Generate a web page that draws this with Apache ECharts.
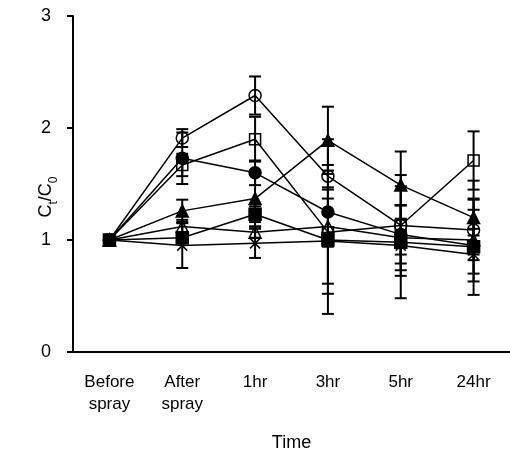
<!DOCTYPE html>
<html>
<head>
<meta charset="utf-8">
<script src="https://cdn.jsdelivr.net/npm/echarts@6/dist/echarts.min.js"></script>
<style>
  html, body { margin: 0; padding: 0; background: #fff; }
  #chart { width: 510px; height: 459px; }
</style>
</head>
<body>
<div id="chart"></div>
<script>
  var categories = ['Before\nspray', 'After\nspray', '1hr', '3hr', '5hr', '24hr'];

  // mean values, one list per marker
  var openCircle     = [1, 1.91, 2.29, 1.57, 1.13, 1.09];
  var filledCircle   = [1, 1.73, 1.60, 1.25, 1.05, 0.95];
  var openSquare     = [1, 1.67, 1.90, 1.07, 1.13, 1.71];
  var openTriangle   = [1, 1.12, 1.07, 1.12, 1.02, 1.00];
  var filledTriangle = [1, 1.26, 1.37, 1.89, 1.49, 1.20];
  var cross          = [1, 0.95, 0.97, 0.99, 0.95, 0.87];
  var filledSquare   = [1, 1.02, 1.23, 1.00, 0.98, 0.94];

  // error bar half-lengths
  var openCircleSd     = [0, 0.08, 0.17, 0.10, 0.18, 0.27];
  var filledCircleSd   = [0, 0.23, 0.11, 0.20, 0.26, 0.32];
  var openSquareSd     = [0, 0.10, 0.20, 0.55, 0.45, 0.26];
  var openTriangleSd   = [0, 0.06, 0.05, 0.78, 0.29, 0.10];
  var filledTriangleSd = [0, 0.10, 0.25, 0.30, 0.30, 0.33];
  var crossSd          = [0, 0.20, 0.13, 0.38, 0.08, 0.17];
  var filledSquareSd   = [0, 0.05, 0.07, 0.06, 0.50, 0.43];

  var yTicks = [0, 1, 2, 3];

  var groups = [
    { name: 'oc', data: openCircle, sd: openCircleSd, symbol: 'circle', size: 12, fill: 'rgba(0,0,0,0)' },
    { name: 'fc', data: filledCircle, sd: filledCircleSd, symbol: 'circle', size: 12, fill: '#000' },
    { name: 'os', data: openSquare, sd: openSquareSd, symbol: 'rect', size: 11, fill: 'rgba(0,0,0,0)' },
    { name: 'ot', data: openTriangle, sd: openTriangleSd, symbol: 'triangle', size: 12, fill: 'rgba(0,0,0,0)' },
    { name: 'ft', data: filledTriangle, sd: filledTriangleSd, symbol: 'triangle', size: 12, fill: '#000' },
    { name: 'x', data: cross, sd: crossSd, symbol: 'path://M0,0L10,10M0,10L10,0', size: 10, fill: 'none' },
    { name: 'fs', data: filledSquare, sd: filledSquareSd, symbol: 'rect', size: 12, fill: '#000' }
  ];

  var errData = [];
  groups.forEach(function (g) {
    g.data.forEach(function (v, i) {
      if (g.sd[i] > 0) errData.push([i, v - g.sd[i], v + g.sd[i]]);
    });
  });

  var series = [{
    type: 'custom',
    z: 1,
    silent: true,
    data: errData,
    renderItem: function (params, api) {
      var lo = api.coord([api.value(0), api.value(1)]);
      var hi = api.coord([api.value(0), api.value(2)]);
      var w = 6;
      var st = { stroke: '#000', lineWidth: 2 };
      return {
        type: 'group',
        children: [
          { type: 'line', shape: { x1: lo[0], y1: lo[1], x2: hi[0], y2: hi[1] }, style: st },
          { type: 'line', shape: { x1: lo[0] - w, y1: lo[1], x2: lo[0] + w, y2: lo[1] }, style: st },
          { type: 'line', shape: { x1: hi[0] - w, y1: hi[1], x2: hi[0] + w, y2: hi[1] }, style: st }
        ]
      };
    }
  }];

  groups.forEach(function (g, k) {
    series.push({
      name: g.name,
      type: 'line',
      z: 2 + k,
      data: g.data,
      symbol: g.symbol,
      symbolSize: g.size,
      showAllSymbol: true,
      lineStyle: { color: '#000', width: 1.5 },
      itemStyle: { color: g.fill, borderColor: '#000', borderWidth: 1.5 },
      emphasis: { disabled: true }
    });
  });

  var chart = echarts.init(document.getElementById('chart'));
  chart.setOption({
    animation: false,
    backgroundColor: '#fff',
    grid: { left: 73, right: 0, top: 16, bottom: 107 },
    xAxis: {
      type: 'category',
      data: categories,
      boundaryGap: true,
      name: 'Time',
      nameLocation: 'middle',
      nameGap: 82,
      nameMoveOverlap: false,
      nameTextStyle: { color: '#000', fontSize: 18, fontFamily: 'Liberation Sans' },
      axisLine: { lineStyle: { color: '#000', width: 2 } },
      axisTick: { show: false },
      axisLabel: {
        interval: 0,
        color: '#000',
        fontSize: 17,
        lineHeight: 22,
        margin: 19,
        fontFamily: 'Liberation Sans'
      }
    },
    yAxis: {
      type: 'value',
      min: yTicks[0],
      max: yTicks[yTicks.length - 1],
      interval: 1,
      name: '{n|C}{s|t}{n|/C}{s|0}',
      nameLocation: 'middle',
      nameGap: 18,
      nameMoveOverlap: false,
      nameTextStyle: {
        color: '#000',
        padding: [0, 26, 0, 0],
        rich: {
          n: { fontSize: 18, color: '#000', fontFamily: 'Liberation Sans', verticalAlign: 'bottom', lineHeight: 22 },
          s: { fontSize: 12, color: '#000', fontFamily: 'Liberation Sans', verticalAlign: 'bottom', lineHeight: 22, padding: [0, 0, -5, 0] }
        }
      },
      splitLine: { show: false },
      axisLine: { show: true, lineStyle: { color: '#000', width: 2 } },
      axisTick: { show: true, length: 6, lineStyle: { color: '#000', width: 2 } },
      axisLabel: { color: '#000', fontSize: 18, margin: 22, fontFamily: 'Liberation Sans' }
    },
    series: series
  });
</script>
</body>
</html>
